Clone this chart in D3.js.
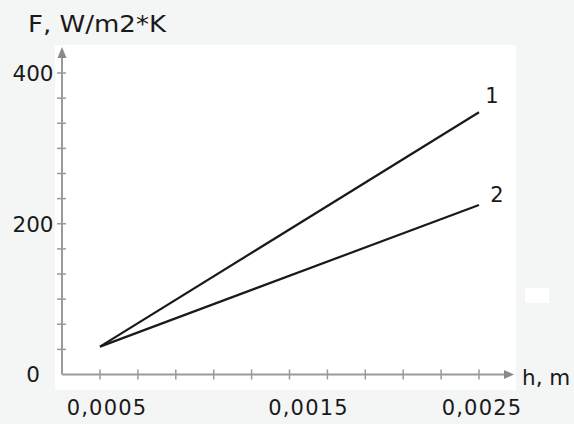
<!DOCTYPE html>
<html>
<head>
<meta charset="utf-8">
<script src="https://cdn.jsdelivr.net/npm/d3@7"></script>
<style>
  html, body { margin: 0; padding: 0; background: #f4f5f5; }
  svg { display: block; }
  text { font-family: "DejaVu Sans", Verdana, sans-serif; fill: #1a1a1a; }
</style>
</head>
<body>
<svg id="chart" width="574" height="424"></svg>
<script>
// Heat transfer coefficient F versus thickness h, two cases
const h = [0.0005, 0.0025];
const series1 = [37, 348];
const series2 = [37, 225];
const seriesNames = ["1", "2"];

// Axis ticks and labels
const xMinorTicks = [0.0005, 0.0007, 0.0009, 0.0011, 0.0013, 0.0015, 0.0017, 0.0019, 0.0021, 0.0023, 0.0025];
const xTickValues = [0.0005, 0.0015, 0.0025];
const xTickLabels = ["0,0005", "0,0015", "0,0025"];
const xLabelShift = [7, 19, 3];
const yMinorTicks = [400 / 12, 800 / 12, 100, 1600 / 12, 2000 / 12, 200, 2800 / 12, 3200 / 12, 300, 4000 / 12, 4400 / 12, 400];
const yTickValues = [0, 200, 400];
const yTickLabels = ["0", "200", "400"];

const svg = d3.select("#chart");

// Panel backgrounds
svg.append("rect").attr("x", 0).attr("y", 0).attr("width", 574).attr("height", 424).attr("fill", "#f4f5f5");
svg.append("rect").attr("x", 55).attr("y", 45).attr("width", 461).attr("height", 345).attr("fill", "#ffffff");
svg.append("rect").attr("x", 525).attr("y", 288).attr("width", 24).attr("height", 15).attr("fill", "#ffffff");

const x = d3.scaleLinear().domain([0.0005, 0.0025]).range([100, 479]);
const y = d3.scaleLinear().domain([0, 400]).range([374.5, 73]);

const x0 = x.invert(62);      // left end of the horizontal axis
const xEnd = x.invert(514);   // arrow tip
const yTop = y.invert(47);    // arrow tip

const axisColor = "#9a9a9a";

// Horizontal axis
const gx = svg.append("g").attr("transform", `translate(0,${y(0)})`);
gx.append("line").attr("x1", x(x0)).attr("x2", x(xEnd) - 8)
  .attr("stroke", axisColor).attr("stroke-width", 2);
gx.append("path")
  .attr("d", `M${x(xEnd)},0 L${x(xEnd) - 10},-4.5 L${x(xEnd) - 10},4.5 Z`)
  .attr("fill", "#8a8a8a");
gx.selectAll("line.tick").data(xMinorTicks).join("line").attr("class", "tick")
  .attr("x1", d => x(d)).attr("x2", d => x(d)).attr("y1", -5).attr("y2", 5)
  .attr("stroke", axisColor).attr("stroke-width", 1.5);
gx.selectAll("text").data(xTickValues).join("text")
  .attr("x", (d, i) => x(d) + xLabelShift[i]).attr("y", 40.5)
  .attr("text-anchor", "middle").attr("font-size", 21).attr("letter-spacing", 1.2)
  .text((d, i) => xTickLabels[i]);

// Vertical axis
const gy = svg.append("g").attr("transform", `translate(62,0)`);
gy.append("line").attr("y1", y(0)).attr("y2", y(yTop) + 8)
  .attr("stroke", axisColor).attr("stroke-width", 2);
gy.append("path")
  .attr("d", `M0,${y(yTop)} L-4.5,${y(yTop) + 11} L4.5,${y(yTop) + 11} Z`)
  .attr("fill", "#8a8a8a");
gy.selectAll("line.tick").data(yMinorTicks).join("line").attr("class", "tick")
  .attr("y1", d => y(d)).attr("y2", d => y(d)).attr("x1", -5).attr("x2", 4)
  .attr("stroke", axisColor).attr("stroke-width", 1.5);
gy.selectAll("text").data(yTickValues).join("text")
  .attr("x", -29).attr("y", d => y(d)).attr("dy", "0.37em")
  .attr("text-anchor", "middle").attr("font-size", 21.5)
  .text((d, i) => yTickLabels[i]);

// Axis titles
svg.append("text").attr("x", 28).attr("y", 31.5).attr("font-size", 22.5)
  .attr("textLength", 138).attr("lengthAdjust", "spacingAndGlyphs")
  .text("F, W/m2*K");
svg.append("text").attr("x", 522).attr("y", 384.5).attr("font-size", 21.5)
  .text("h, m");

// Lines
const line = d3.line().x((d, i) => x(h[i])).y(d => y(d));
[series1, series2].forEach(s => {
  svg.append("path").datum(s).attr("d", line)
    .attr("fill", "none").attr("stroke", "#1a1a1a").attr("stroke-width", 2.2);
});

// Curve numbers next to the line ends
const ends = [series1[series1.length - 1], series2[series2.length - 1]];
svg.selectAll("text.curve").data(ends).join("text").attr("class", "curve")
  .attr("x", (d, i) => x(h[h.length - 1]) + (i === 0 ? 13 : 18))
  .attr("y", (d, i) => y(d) - (i === 0 ? 9 : 3))
  .attr("text-anchor", "middle").attr("font-size", 21)
  .text((d, i) => seriesNames[i]);
</script>
</body>
</html>
